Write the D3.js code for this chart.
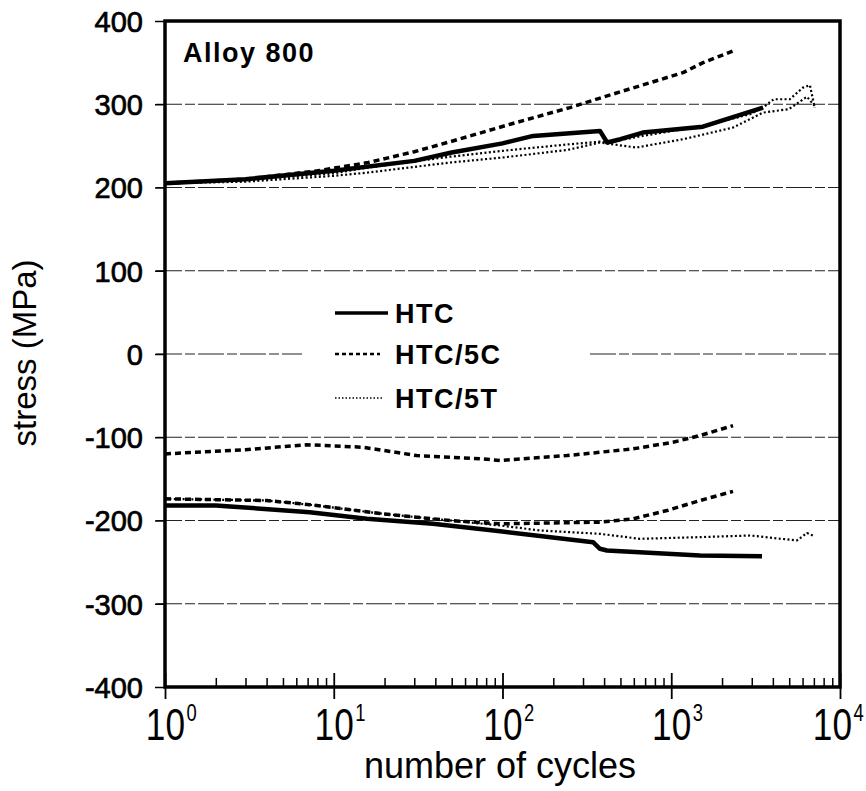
<!DOCTYPE html>
<html>
<head>
<meta charset="utf-8">
<script src="https://cdn.jsdelivr.net/npm/d3@7"></script>
<style>
  body { margin: 0; background: #fff; }
  svg { display: block; }
</style>
</head>
<body>
<svg id="chart"></svg>
<script>
var width = 866;
var height = 791;

// [cycles, stress MPa]
var htcMax   = [[1,205],[3,210],[10,220],[30,232],[50,242],[100,253],[152,262],[378,268],[417,254],[500,258],[678,266],[1540,273],[3500,296]];
var htcMin   = [[1,-182],[2,-182],[7.2,-190],[15.7,-198],[38.7,-204],[97,-213],[344,-226],[378,-234],[416,-236],[1480,-242],[3450,-243]];
var htc5cMax = [[1,205],[3,210],[8,220],[16,230],[30,243],[49,255],[111,276],[251,296],[500,315],[1175,338],[1543,350],[2323,364]];
var htc5cMinA = [[1,-120],[3,-115],[6.9,-109],[14.9,-112],[31,-122],[77,-126],[97,-128],[241,-122],[593,-114],[1024,-106],[1480,-98],[2323,-86]];
var htc5cMinB = [[1,-174],[4,-176],[7.2,-181],[19.6,-192],[49,-200],[97,-204],[378,-202],[593,-198],[944,-188],[1480,-176],[2323,-165]];
var htc5tMaxA = [[1,205],[3,209],[10,217],[16,224],[49,237],[111,245],[251,252],[378,255],[420,254],[678,262],[1540,274],[2930,288],[3500,296],[4050,306],[5040,306],[6030,320],[6630,323],[7080,296]];
var htc5tMaxB = [[1,205],[3,207],[10,214],[16,218],[49,230],[100,236],[241,245],[378,254],[620,248],[1175,258],[2323,272],[3500,290],[4960,294],[6370,309],[7080,298]];
var htc5tMin = [[1,-174],[4,-176],[7.2,-181],[19.6,-192],[49,-200],[97,-206],[167,-212],[378,-216],[653,-222],[1480,-220],[2930,-218],[5560,-224],[6370,-215],[6920,-218]];

var yTicks = [-400,-300,-200,-100,0,100,200,300,400];
var gridValues = [-300,-200,-100,0,100,200,300];
var decades = [1,10,100,1000,10000];
var decadeLabels = ['0','1','2','3','4'];
var legendItems = ['HTC','HTC/5C','HTC/5T'];

var svg = d3.select('#chart').attr('width', width).attr('height', height);

var x = d3.scaleLog().domain([1, 1e4]).range([165, 840]);
var y = d3.scaleLinear().domain([-400, 400]).range([687, 21]);

// grid lines (the 0 line is broken around the legend)
var gridDash = '26,3,10,3';
var zeroDash = [gridDash, gridDash, gridDash, '20,288', gridDash, gridDash, gridDash, gridDash, gridDash, gridDash].join(',');
svg.append('g').selectAll('line')
  .data(gridValues)
  .enter().append('line')
  .attr('x1', 156).attr('x2', x(1e4))
  .attr('y1', d => y(d)).attr('y2', d => y(d))
  .attr('stroke', '#222')
  .attr('stroke-width', 1.2)
  .attr('stroke-dasharray', d => d === 0 ? zeroDash : gridDash);

// curves
var line = d3.line().x(d => x(d[0])).y(d => y(d[1]));

var styles = {
  solid: { w: 4.5, dash: null },
  dashed: { w: 3.5, dash: '6,4' },
  dotted: { w: 2.2, dash: '2,2.4' }
};

var curves = [
  { data: htc5tMaxA, s: 'dotted' },
  { data: htc5tMaxB, s: 'dotted' },
  { data: htc5tMin, s: 'dotted' },
  { data: htc5cMax, s: 'dashed' },
  { data: htc5cMinA, s: 'dashed' },
  { data: htc5cMinB, s: 'dashed' },
  { data: htcMax, s: 'solid' },
  { data: htcMin, s: 'solid' }
];

svg.append('g').selectAll('path')
  .data(curves)
  .enter().append('path')
  .attr('d', d => line(d.data))
  .attr('fill', 'none')
  .attr('stroke', '#000')
  .attr('stroke-width', d => styles[d.s].w)
  .attr('stroke-dasharray', d => styles[d.s].dash)
  .attr('stroke-linejoin', 'round');

// left axis
var yAxis = d3.axisLeft(y).tickValues(yTicks).tickSize(10).tickPadding(12)
  .tickFormat(d => String(d));
var gy = svg.append('g').attr('transform', 'translate(165,0)').call(yAxis);
gy.select('.domain').remove();
gy.selectAll('.tick line').attr('stroke-width', 1.5);
gy.selectAll('.tick text')
  .attr('font-family', 'Liberation Sans, Arial, sans-serif')
  .attr('font-size', 29)
  .attr('fill', '#000')
  .attr('stroke', '#000')
  .attr('stroke-width', 0.7)
  .attr('dy', '0.36em');

// bottom axis: major ticks outward, minor ticks inward
var minor = [];
decades.slice(0, 4).forEach(function (d) {
  for (var k = 2; k <= 9; k++) minor.push(d * k);
});
var gxMinor = svg.append('g').attr('transform', 'translate(0,687)')
  .call(d3.axisBottom(x).tickValues(minor).tickSize(-9).tickFormat(''));
gxMinor.select('.domain').remove();
gxMinor.selectAll('.tick line').attr('stroke-width', 1.5);

var gx = svg.append('g').attr('transform', 'translate(0,687)')
  .call(d3.axisBottom(x).tickValues(decades).tickSizeInner(12).tickSizeOuter(0).tickFormat(''));
gx.select('.domain').remove();
gx.selectAll('.tick line').attr('stroke-width', 1.8);
gx.selectAll('.tick').append('line')
  .attr('y1', 0).attr('y2', -14).attr('stroke', '#000').attr('stroke-width', 1.8);

// decade labels: tall narrow "10" with a raised exponent, as one text;
// the last one is pulled in so its exponent stays on the page
var lab = svg.append('g').selectAll('text')
  .data(decades)
  .enter().append('text')
  .attr('transform', d => 'translate(' + Math.min(x(d), width - 34) + ',740) scale(0.8,1)')
  .attr('x', -24)
  .attr('font-family', 'Liberation Sans, Arial, sans-serif')
  .attr('font-size', 44);
lab.append('tspan').text('10');
lab.append('tspan')
  .attr('dx', 2).attr('dy', -19)
  .attr('font-size', 23)
  .text((d, i) => decadeLabels[i]);

// frame
svg.append('rect')
  .attr('x', 165).attr('y', 21)
  .attr('width', 840 - 165).attr('height', 687 - 21)
  .attr('fill', 'none').attr('stroke', '#000').attr('stroke-width', 3.5);

// axis titles
svg.append('text')
  .attr('x', 500).attr('y', 778)
  .attr('text-anchor', 'middle')
  .attr('font-family', 'Liberation Sans, Arial, sans-serif')
  .attr('font-size', 36)
  .text('number of cycles');

svg.append('text')
  .attr('transform', 'translate(36,353) rotate(-90)')
  .attr('text-anchor', 'middle')
  .attr('font-family', 'Liberation Sans, Arial, sans-serif')
  .attr('font-size', 33)
  .text('stress (MPa)');

svg.append('text')
  .attr('x', 183).attr('y', 62)
  .attr('font-family', 'Liberation Sans, Arial, sans-serif')
  .attr('font-weight', 'bold')
  .attr('font-size', 27)
  .attr('letter-spacing', 1.5)
  .text('Alloy 800');

// legend
var legendY = [313, 354, 398];
var legendEnd = [388, 380, 383];
var lg = svg.append('g').selectAll('g')
  .data(legendItems)
  .enter().append('g')
  .attr('transform', (d, i) => 'translate(0,' + legendY[i] + ')');
lg.append('line')
  .attr('x1', 335).attr('x2', (d, i) => legendEnd[i])
  .attr('stroke', '#000')
  .attr('stroke-width', (d, i) => [3.5, 2.5, 1.6][i])
  .attr('stroke-dasharray', (d, i) => [null, '4,3', '1.5,2'][i]);
lg.append('text')
  .attr('x', 395).attr('y', 10)
  .attr('font-family', 'Liberation Sans, Arial, sans-serif')
  .attr('font-weight', 'bold')
  .attr('font-size', 27)
  .attr('letter-spacing', 1.5)
  .text(d => d);
</script>
</body>
</html>
